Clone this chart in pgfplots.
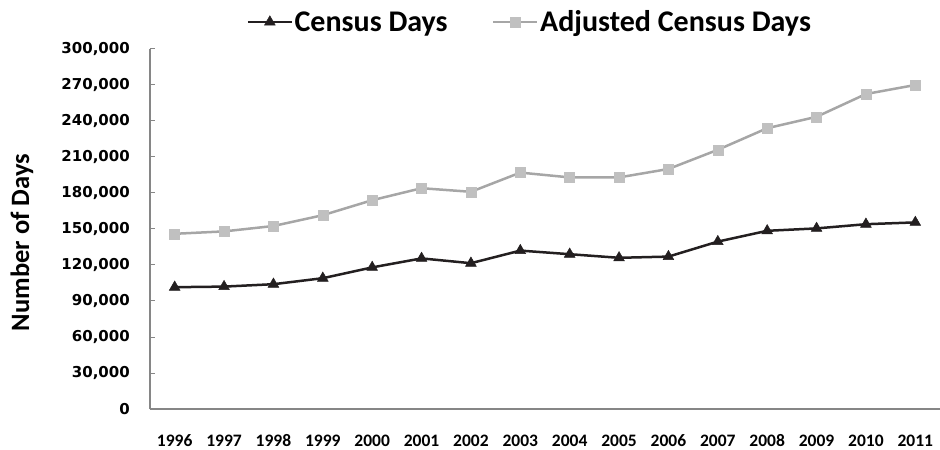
\documentclass[border=0pt]{standalone}
\usepackage{pgfplots}
\pgfplotsset{compat=1.18}
\usepackage{fontspec}
\setmainfont{Carlito}
\newfontfamily\dejavu{DejaVu Sans}
\definecolor{axisgray}{HTML}{868686}
\definecolor{censusc}{HTML}{231F20}
\definecolor{adjline}{HTML}{A6A6A6}
\definecolor{adjmark}{HTML}{C0C0C0}
\newcommand\ytfont{\dejavu\bfseries\fontsize{15bp}{18bp}\selectfont}
\newcommand\xtfont{\bfseries\fontsize{17.5bp}{20bp}\selectfont}
\newcommand\ylfont{\bfseries\fontsize{26.5bp}{30bp}\selectfont}
\newcommand\legfont{\bfseries\fontsize{30bp}{34bp}\selectfont}
\begin{document}
\begin{tikzpicture}
\useasboundingbox (-150bp,-41bp) rectangle (790bp,409bp);
\begin{axis}[
  at={(0,0)}, anchor=south west,
  scale only axis, width=790bp, height=360bp,
  xmin=-0.5, xmax=15.5, ymin=0, ymax=300000,
  axis x line*=bottom, axis y line*=left,
  axis line style={draw=axisgray, line width=1.3bp},
  xtick={0,...,15},
  xticklabels={1996,1997,1998,1999,2000,2001,2002,2003,2004,2005,2006,2007,2008,2009,2010,2011},
  x tick style={draw=none},
  ytick={0,30000,60000,90000,120000,150000,180000,210000,240000,270000,300000},
  yticklabels={0,{30,000},{60,000},{90,000},{120,000},{150,000},{180,000},{210,000},{240,000},{270,000},{300,000}},
  tick align=inside,
  y tick style={draw=axisgray, line width=1bp},
  major tick length=5bp,
  scaled y ticks=false,
  yticklabel style={font=\ytfont, inner sep=0pt, xshift=-20bp},
  xticklabel style={font=\xtfont, inner sep=0pt, anchor=base, yshift=-37.5bp},
  ylabel={Number of Days},
  ylabel style={font=\ylfont, at={(axis description cs:0,0.4625)}, yshift=128bp, anchor=center},
  clip=false,
  legend columns=2,
  legend style={at={(axis description cs:0.4804,1.075)}, anchor=center, draw=none, fill=none,
    font=\legfont, nodes={inner sep=1.5bp},
    /tikz/every even column/.append style={column sep=43bp}},
  legend image code/.code={
    \draw[mark repeat=2,mark phase=2,#1] plot coordinates {(0bp,0bp) (22bp,0bp) (44bp,0bp)};},
]
\addplot[color=censusc, line width=2.5bp, mark=triangle*, mark size=6.2bp,
  mark options={fill=censusc, draw=censusc, line width=0.5bp}]
  coordinates {(0,101500) (1,102000) (2,104000) (3,109000) (4,118000) (5,125500) (6,121500) (7,132000)
               (8,129000) (9,126000) (10,127000) (11,139500) (12,148500) (13,150500) (14,154000) (15,155500)};
\addlegendentry{Census Days}
\addplot[color=adjline, line width=2.5bp, mark=square*, mark size=5bp,
  mark options={fill=adjmark, draw=adjmark, line width=0.5bp}]
  coordinates {(0,146000) (1,148000) (2,152500) (3,161500) (4,174000) (5,184000) (6,181000) (7,197000)
               (8,193000) (9,193000) (10,200000) (11,216000) (12,234000) (13,243500) (14,262500) (15,270000)};
\addlegendentry{Adjusted Census Days}
\end{axis}
\end{tikzpicture}
\end{document}
